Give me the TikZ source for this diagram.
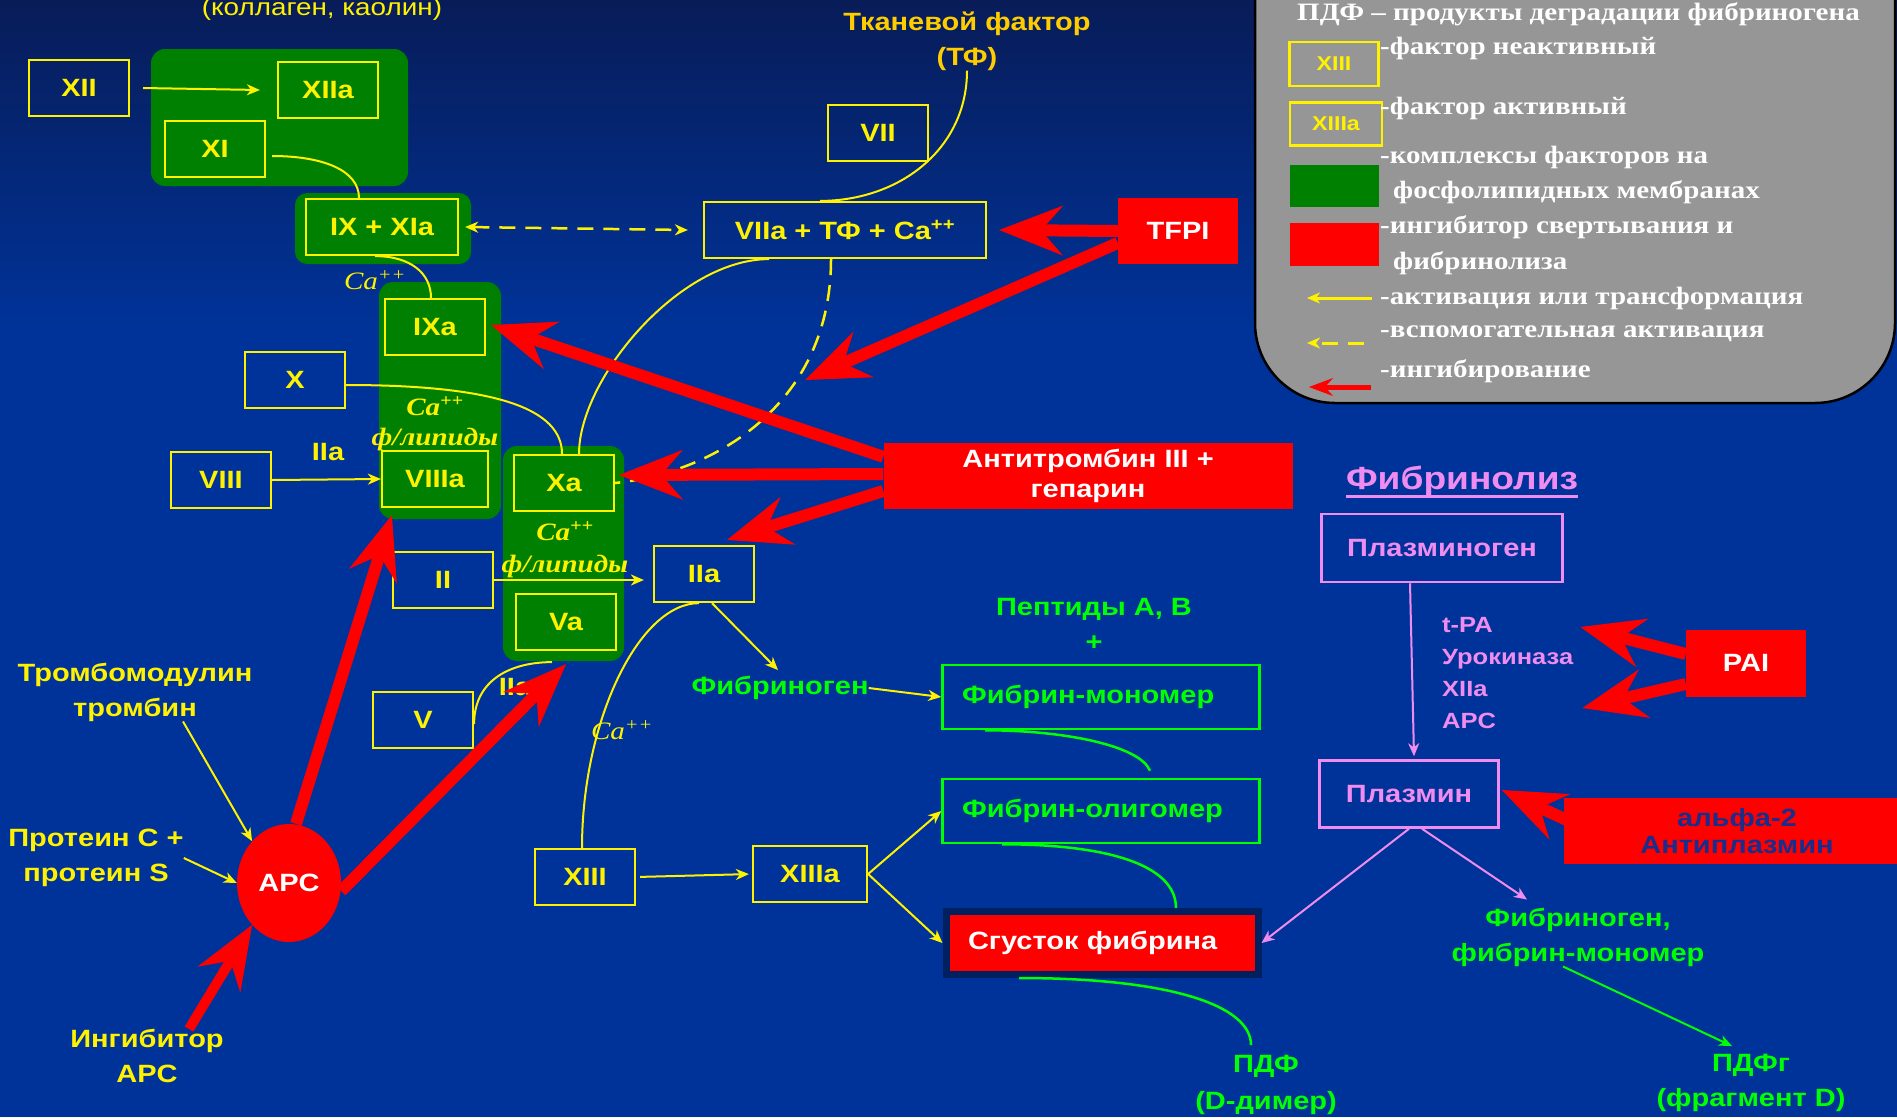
\documentclass[tikz,border=0pt]{standalone}
\usepackage{fontspec}
\usetikzlibrary{arrows.meta,shapes.geometric}
\newfontfamily\ar{Liberation Sans}[FakeStretch=1.16]
\newfontfamily\tnr{Liberation Serif}[FakeStretch=1.16]
\newcommand\fsz[2]{\fontsize{#1}{#2}\selectfont}

\definecolor{bgblue}{RGB}{0,51,153}
\definecolor{bgtop}{RGB}{8,28,88}
\definecolor{cgreen}{RGB}{0,128,0}
\definecolor{lime}{RGB}{0,255,0}
\definecolor{pinkv}{RGB}{240,140,240}
\definecolor{tfcol}{RGB}{255,204,0}
\definecolor{legray}{RGB}{150,150,150}
\definecolor{navytext}{RGB}{25,45,140}
\definecolor{clotrim}{RGB}{0,32,96}

\tikzset{
  fac/.style={draw=yellow, line width=2.2pt, text=yellow, font=\ar\bfseries\fsz{25}{30},
    minimum width=100pt, minimum height=56pt, inner sep=0pt},
  membr/.style={fill=cgreen, rounded corners=14pt},
  ylbl/.style={text=yellow, font=\ar\bfseries\fsz{25}{35}, align=center, inner sep=0pt},
  glbl/.style={text=lime, font=\ar\bfseries\fsz{25}{35}, align=center, inner sep=0pt},
  plbl/.style={text=pinkv, font=\ar\bfseries\fsz{25}{32}, align=center, inner sep=0pt},
  calbl/.style={text=yellow, font=\tnr\itshape\fsz{25}{30}, align=center, inner sep=0pt},
  redbox/.style={fill=red, text=white, font=\ar\bfseries\fsz{25}{30}, align=center, inner sep=0pt},
  ltxt/.style={text=white, font=\tnr\bfseries\fsz{25}{35}, anchor=west, inner sep=0pt},
  yline/.style={draw=yellow, line width=2pt},
  yarr/.style={yline, -{Stealth[length=13pt,width=11pt,inset=4pt]}},
  ydash/.style={yline, line width=2.5pt, dash pattern=on 16pt off 10pt},
  gline/.style={draw=lime, line width=2.5pt},
  garr/.style={gline, line width=2pt, -{Stealth[length=13pt,width=11pt,inset=4pt]}},
  parr/.style={draw=pinkv, line width=2pt, -{Stealth[length=13pt,width=11pt,inset=4pt]}},
  redarr/.style={draw=red, line width=12pt,
    -{Stealth[length=64pt,width=50pt,inset=22pt,line width=1pt]}},
}

\begin{document}
\begin{tikzpicture}[x=1pt,y=-1pt]
    % Frame and background
    \useasboundingbox (0,0) rectangle (1897,1117);
    \clip (0,0) rectangle (1897,1117);
    \fill[bgblue] (0,0) rectangle (1897,1117);
    \shade[top color=bgtop, bottom color=bgblue] (0,0) rectangle (1897,330);

    % Complexes on phospholipid membranes
    \fill[membr] (151,49) rectangle (408,186);
    \fill[membr, rounded corners=12pt] (295,193) rectangle (471,264);
    \fill[membr] (379,282) rectangle (501,519);
    \fill[membr] (503,446) rectangle (624,661);

    % Legend
    \draw[fill=legray, line width=2.5pt, rounded corners=80pt] (1255,-100) rectangle (1895,403);
    \node[ltxt] (lgtitle) at (1297,14) {ПДФ – продукты деградации фибриногена};
    \node[fac, minimum width=89pt, minimum height=44pt, font=\ar\bfseries\fsz{20}{24}] (lgXIII) at (1334,64) {XIII};
    \node[fac, minimum width=92pt, minimum height=43pt, font=\ar\bfseries\fsz{20}{24}] (lgXIIIa) at (1336,124) {XIIIa};
    \node[fill=cgreen, minimum width=89pt, minimum height=42pt, inner sep=0pt] (lgcplx) at (1334,186) {};
    \node[fill=red, minimum width=89pt, minimum height=43pt, inner sep=0pt] (lginh) at (1334,244) {};
    \node[ltxt] at (1380,48) {-фактор неактивный};
    \node[ltxt] at (1380,108) {-фактор активный};
    \node[ltxt] at (1380,157) {-комплексы факторов на};
    \node[ltxt] at (1393,192) {фосфолипидных мембранах};
    \node[ltxt] at (1380,227) {-ингибитор свертывания и};
    \node[ltxt] at (1393,263) {фибринолиза};
    \node[ltxt] at (1380,298) {-активация или трансформация};
    \node[ltxt] at (1380,334) {-вспомогательная активация};
    \node[ltxt] at (1380,371) {-ингибирование};
    \coordinate (lga1) at (1372,298);
    \coordinate (lga2) at (1307,298);
    \coordinate (lgb1) at (1364,343);
    \coordinate (lgb2) at (1307,343);
    \coordinate (lgc1) at (1371,387);
    \coordinate (lgc2) at (1309,387);
    \draw[yarr, line width=3pt] (lga1) -- (lga2);
    \draw[yarr, line width=3pt, dash pattern=on 16pt off 10pt] (lgb1) -- (lgb2);
    \draw[draw=red, line width=5pt, -{Stealth[length=24pt,width=18pt,inset=8pt,line width=1pt]}] (lgc1) -- (lgc2);

    % Coagulation factors
    \node[fac] (XII) at (79,88) {XII};
    \node[fac] (XIIa) at (328,90) {XIIa};
    \node[fac] (XI) at (215,149) {XI};
    \node[fac, minimum width=152pt] (IXXIa) at (382,227) {IX + XIa};
    \node[fac] (IXa) at (435,327) {IXa};
    \node[fac] (X) at (295,380) {X};
    \node[fac] (VIII) at (221,480) {VIII};
    \node[fac, minimum width=106pt] (VIIIa) at (435,479) {VIIIa};
    \node[fac] (Xa) at (564,483) {Xa};
    \node[fac] (II) at (443,580) {II};
    \node[fac] (IIa) at (704,574) {IIa};
    \node[fac] (Va) at (566,622) {Va};
    \node[fac] (V) at (423,720) {V};
    \node[fac] (XIII) at (585,877) {XIII};
    \node[fac, minimum width=114pt] (XIIIa) at (810,874) {XIIIa};
    \node[fac] (VII) at (878,133) {VII};
    \node[fac, minimum width=282pt] (VIIa) at (845,230) {VIIa + ТФ + Ca\textsuperscript{++}};

    % Labels
    \node[ylbl, font=\ar\fsz{24}{30}] (kaolin) at (322,9) {(коллаген, каолин)};
    \node[ylbl, text=tfcol] (tf) at (967,41) {Тканевой фактор\\(ТФ)};
    \node[calbl] (ca1) at (375,280) {Ca\textsuperscript{++}};
    \node[calbl, font=\tnr\bfseries\itshape\fsz{25}{30}] (lip1) at (435,424) {Ca\textsuperscript{++}\\ф/липиды};
    \node[calbl, font=\tnr\bfseries\itshape\fsz{25}{32}] (lip2) at (565,550) {Ca\textsuperscript{++}\\ф/липиды};
    \node[calbl] (ca2) at (622,730) {Ca\textsuperscript{++}};
    \node[ylbl] (IIa1) at (328,452) {IIa};
    \node[ylbl] (IIa2) at (515,687) {IIa};
    \node[ylbl] (tm) at (135,692) {Тромбомодулин\\тромбин};
    \node[ylbl] (ps) at (96,858) {Протеин С +\\протеин S};
    \node[ylbl] (inhapc) at (147,1056) {Ингибитор\\APC};
    \node[ellipse, fill=red, text=white, font=\ar\bfseries\fsz{25}{30},
      minimum width=104pt, minimum height=118pt, inner sep=0pt] (apc) at (289,883) {APC};

    % Fibrin formation
    \node[glbl] (fbg) at (780,688) {Фибриноген};
    \node[glbl] (pept) at (1094,624) {Пептиды А, В\\+};
    \node[draw=lime, line width=2.5pt, text=lime, font=\ar\bfseries\fsz{25}{30},
      minimum width=317pt, minimum height=64pt, text width=278pt, align=left, inner sep=0pt] (mono) at (1101,697) {Фибрин-мономер};
    \node[draw=lime, line width=2.5pt, text=lime, font=\ar\bfseries\fsz{25}{30},
      minimum width=317pt, minimum height=64pt, text width=278pt, align=left, inner sep=0pt] (olig) at (1101,811) {Фибрин-олигомер};
    \node[fill=red, draw=clotrim, line width=7pt, text=white, font=\ar\bfseries\fsz{25}{30},
      minimum width=312pt, minimum height=63pt, text width=268pt, align=left, inner sep=0pt] (clot) at (1102,943) {Сгусток фибрина};
    \node[glbl, font=\ar\bfseries\fsz{25}{37}] (pdf) at (1266,1085) {ПДФ\\(D-димер)};

    % Inhibitors
    \node[redbox, minimum width=120pt, minimum height=66pt] (tfpi) at (1178,231) {TFPI};
    \node[redbox, minimum width=409pt, minimum height=66pt] (at) at (1088,476) {Антитромбин III +\\гепарин};
    \node[redbox, minimum width=120pt, minimum height=67pt] (pai) at (1746,663) {PAI};
    \node[redbox, text=navytext, font=\ar\bfseries\fsz{25}{27}, minimum width=346pt, minimum height=66pt] (a2) at (1737,831) {альфа-2\\Антиплазмин};

    % Fibrinolysis
    \node[plbl, font=\ar\bfseries\fsz{32}{36}] (fbl) at (1462,481) {Фибринолиз};
    \draw[pinkv, line width=3pt] (fbl.south west) -- (fbl.south east);
    \node[draw=pinkv, line width=2.5pt, plbl, minimum width=241pt, minimum height=68pt] (plg) at (1442,548) {Плазминоген};
    \node[plbl, font=\ar\bfseries\fsz{22}{32}, align=left, anchor=west] (act) at (1442,673) {t-PA\\Урокиназа\\XIIa\\APC};
    \node[draw=pinkv, line width=2.5pt, plbl, minimum width=179pt, minimum height=67pt] (pl) at (1409,794) {Плазмин};
    \node[glbl] (fgm) at (1578,937) {Фибриноген,\\фибрин-мономер};
    \node[glbl] (pdfg) at (1751,1083) {ПДФг\\(фрагмент D)};

    % Activation curves
    \draw[yline] ([xshift=6pt,yshift=-7pt]XI.east) .. controls +(50,0) and +(0,-28) .. ([xshift=-23pt]IXXIa.north);
    \draw[yline] ([xshift=-7pt]IXXIa.south) .. controls +(35,0) and +(0,-25) .. ([xshift=-4pt]IXa.north);
    \draw[yline] ([yshift=-5pt]X.east) .. controls +(150,0) and +(0,-45) .. ([xshift=-2pt]Xa.north);
    \draw[yline] ([xshift=15pt]Xa.north) .. controls +(0,-75) and +(-90,0) .. ([xshift=-76pt]VIIa.south);
    \draw[ydash] ([xshift=-14pt]VIIa.south) .. controls +(0,142) and +(104,-11) .. (Xa.east);
    \draw[yline] (tf.south) .. controls +(0,78) and +(80,0) .. ([xshift=-25pt]VIIa.north);
    \draw[yline] ([yshift=-4pt]V.east) .. controls +(0,-45) and +(-40,0) .. ([xshift=-14pt,yshift=-11pt]Va.south);
    \draw[yline] ([xshift=-3pt]XIII.north) .. controls +(0,-127) and +(-60,0) .. ([xshift=-5pt]IIa.south);

    % Activation arrows
    \draw[yarr] ([xshift=13pt]XII.east) -- ([xshift=-17pt]XIIa.west);
    \draw[ydash, {Stealth[length=13pt,width=11pt,inset=4pt]}-{Stealth[length=13pt,width=11pt,inset=4pt]}]
      ([xshift=6pt]IXXIa.east) -- ([xshift=-15pt]VIIa.west);
    \draw[yarr] (VIII.east) -- (VIIIa.west);
    \draw[yarr, shorten >=9pt] (II.east) -- (II.east -| IIa.west);
    \draw[yarr, shorten <=4pt, shorten >=3pt] (XIII.east) -- (XIIIa.west);
    \draw[yarr] ([xshift=8pt]IIa.south) -- ([xshift=-2pt,yshift=6pt]fbg.north);
    \draw[yarr] (fbg.east) -- (mono.west);
    \draw[yarr] (XIIIa.east) -- (olig.west);
    \draw[yarr] (XIIIa.east) -- (clot.west);
    \draw[yarr] ([xshift=48pt]tm.south) -- (apc.north west);
    \draw[yarr] (ps.east) -- (apc.west);

    % Fibrin curves
    \draw[gline] ([xshift=-116pt]mono.south) .. controls +(80,0) and +(-10,-25) .. ([xshift=49pt,yshift=7pt]olig.north);
    \draw[gline] ([xshift=-99pt]olig.south) .. controls +(100,0) and +(0,-45) .. ([xshift=74pt]clot.north);
    \draw[gline] ([xshift=-83pt]clot.south) .. controls +(150,0) and +(0,-40) .. ([xshift=-15pt,yshift=10pt]pdf.north);

    % Fibrinolysis arrows
    \draw[parr] ([xshift=-32pt]plg.south) -- ([xshift=5pt,yshift=3pt]pl.north);
    \draw[parr] (pl.south) -- (clot.east);
    \draw[parr] ([xshift=13pt]pl.south) -- ([xshift=-51pt,yshift=8pt]fgm.north);
    \draw[garr] ([xshift=-15pt]fgm.south) -- ([xshift=-19pt,yshift=8pt]pdfg.north);

    % Inhibition arrows
    \coordinate (tfpitip) at (805,380);
    \draw[redarr] (tfpi.west) -- ([xshift=12pt]VIIa.east);
    \draw[redarr] ([yshift=-12pt]tfpi.west) -- (tfpitip);
    \draw[redarr] ([yshift=-14pt]at.north west) -- ([xshift=5pt,yshift=2pt]IXa.east);
    \draw[redarr] ([yshift=2pt]at.west) -- ([xshift=4pt,yshift=8pt]Xa.east);
    \draw[redarr] ([yshift=-15pt]at.west) -- ([xshift=23pt,yshift=5pt]IIa.north);
    \draw[redarr] ([xshift=7pt]apc.north) -- ([xshift=11pt,yshift=-7pt]VIIIa.south west);
    \draw[redarr] ([yshift=-8pt]apc.east) -- ([yshift=-13pt]Va.south);
    \draw[redarr, line width=10pt] ([xshift=42pt]inhapc.north) -- (apc.south west);
    \draw[redarr] ([yshift=9pt]pai.west) -- ([xshift=7pt,yshift=46pt]act.east);
    \draw[redarr] ([yshift=-21pt]pai.west) -- ([xshift=9pt,yshift=-35pt]act.east);
    \draw[redarr] ([xshift=16pt,yshift=5pt]a2.west) -- ([xshift=2pt,yshift=4pt]pl.east);
\end{tikzpicture}
\end{document}
